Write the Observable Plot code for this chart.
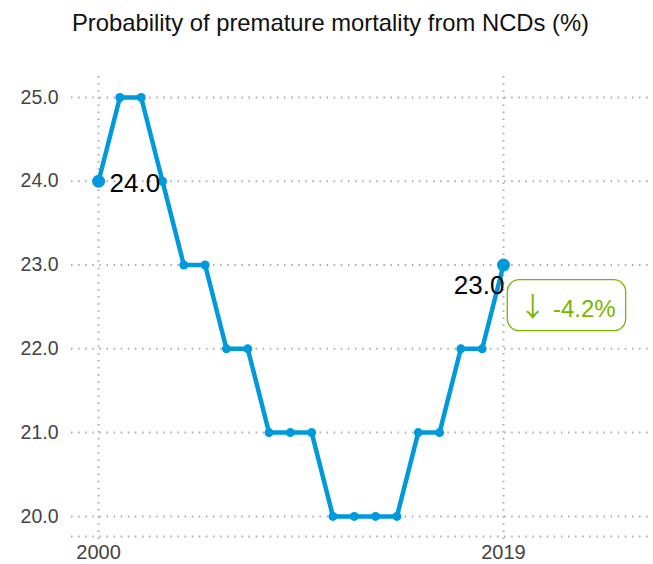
<!DOCTYPE html>
<html>
<head>
<meta charset="utf-8">
<script src="https://cdn.jsdelivr.net/npm/d3@7"></script>
<script src="https://cdn.jsdelivr.net/npm/@observablehq/plot@0.6"></script>
<style>
  html, body { margin: 0; padding: 0; background: #fff; }
  body { width: 653px; height: 564px; overflow: hidden; font-family: "Liberation Sans", Arial, sans-serif; }
  #title { height: 48px; box-sizing: border-box; padding-left: 72px; padding-top: 10px; font-size: 23.8px; color: #111; line-height: 26px; white-space: nowrap; }
</style>
</head>
<body>
<div id="title">Probability of premature mortality from NCDs (%)</div>
<div id="chart"></div>
<script>
const years = [2000,2001,2002,2003,2004,2005,2006,2007,2008,2009,2010,2011,2012,2013,2014,2015,2016,2017,2018,2019];
const values = [24,25,25,24,23,23,22,22,21,21,21,20,20,20,20,21,21,22,22,23];
const yTicks = [20,21,22,23,24,25];
const xTicks = [2000, 2019];
const changeArrow = "↓";
const changeText = "-4.2%";

const data = years.map((year, i) => ({year, value: values[i]}));
const ends = [data[0], data[data.length - 1]];

const blue = "#0099dc";
const green = "#79b500";
const gridStyle = {stroke: "#aaa", strokeWidth: 2, strokeDasharray: "1.5,5.6", strokeOpacity: 1};

const chart = Plot.plot({
  width: 653,
  height: 516,
  marginLeft: 71,
  marginRight: 0,
  marginTop: 28,
  marginBottom: 28,
  style: {fontFamily: "Liberation Sans, Arial, sans-serif", background: "#fff"},
  x: {domain: [1998.73, 2026.04]},
  y: {domain: [19.76, 25.25]},
  marks: [
    Plot.ruleY(yTicks, {...gridStyle}),
    Plot.ruleY([19.76], {...gridStyle}),
    Plot.ruleX(xTicks, {...gridStyle, y1: 25.25, y2: 19.7}),
    Plot.axisY({ticks: yTicks, tickFormat: d3.format(".1f"), tickSize: 0, tickPadding: 13, fontSize: 19.5, color: "#444", label: null}),
    Plot.axisX({ticks: xTicks, tickFormat: d => String(d), tickSize: 0, tickPadding: 8, fontSize: 20, color: "#444", label: null}),
    Plot.line(data, {x: "year", y: "value", stroke: blue, strokeWidth: 4.5}),
    Plot.dot(data, {x: "year", y: "value", r: 4.5, fill: blue}),
    Plot.dot(ends, {x: "year", y: "value", r: 6.5, fill: blue}),
    Plot.text([ends[0]], {x: "year", y: "value", text: d => d3.format(".1f")(d.value), textAnchor: "start", dx: 11, dy: 2, fontSize: 26, fill: "#000"}),
    Plot.text([ends[1]], {x: "year", y: "value", text: d => d3.format(".1f")(d.value), textAnchor: "end", dx: 1, dy: 21, fontSize: 26, fill: "#000"}),
    Plot.text([ends[1]], {x: "year", y: "value", text: () => changeArrow + " " + changeText, textAnchor: "middle", dx: 64, dy: 44, fontSize: 24, fill: green, className: "change-label"})
  ]
});
document.getElementById("chart").appendChild(chart);

// Arrow in a different font, and a rounded box around the change label
chart.querySelectorAll(".change-label text").forEach(t => {
  t.textContent = "";
  const a = document.createElementNS("http://www.w3.org/2000/svg", "tspan");
  a.setAttribute("font-family", "Noto Sans CJK SC");
  a.setAttribute("font-size", "27");
  a.textContent = changeArrow;
  const s = document.createElementNS("http://www.w3.org/2000/svg", "tspan");
  s.textContent = " " + changeText;
  t.appendChild(a);
  t.appendChild(s);
  const b = t.getBBox();
  const padX = 12, padY = 8;
  const rect = document.createElementNS("http://www.w3.org/2000/svg", "rect");
  rect.setAttribute("x", b.x - padX);
  rect.setAttribute("y", b.y - padY + 2);
  rect.setAttribute("width", b.width + 2 * padX - 2);
  rect.setAttribute("height", b.height + 2 * padY - 4);
  rect.setAttribute("rx", 12);
  rect.setAttribute("fill", "none");
  rect.setAttribute("stroke", green);
  rect.setAttribute("stroke-width", 1.3);
  const tr = t.getAttribute("transform");
  if (tr) rect.setAttribute("transform", tr);
  t.parentNode.insertBefore(rect, t);
});
</script>
</body>
</html>
